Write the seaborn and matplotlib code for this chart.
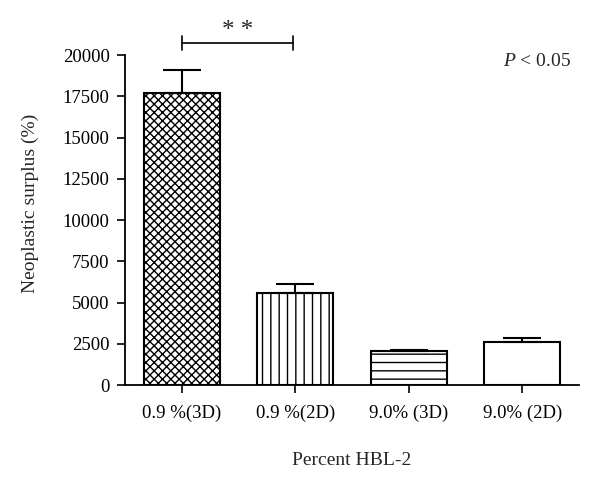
import seaborn as sns
import matplotlib.pyplot as plt
import pandas as pd

# values
groups = ['0.9 %(3D)', '0.9 %(2D)', '9.0% (3D)', '9.0% (2D)']
surplus = [17700, 5580, 2080, 2590]
sem = [1400, 520, 40, 240]
hatches = ['xxxx', '||', '--', '']

df = pd.DataFrame({'group': groups, 'surplus': surplus})

sns.set_style('ticks')
plt.rcParams['font.family'] = ['Liberation Serif', 'DejaVu Serif']
plt.rcParams['mathtext.fontset'] = 'custom'
plt.rcParams['mathtext.it'] = 'Liberation Serif:italic'
plt.rcParams['mathtext.rm'] = 'Liberation Serif'
plt.rcParams['hatch.linewidth'] = 1.0

fig = plt.figure(figsize=(6, 4.82), dpi=100)
ax = fig.add_axes([0.2083, 0.2012, 0.757, 0.6846])

sns.barplot(data=df, x='group', y='surplus', color='white', edgecolor='black',
            linewidth=1.5, width=0.67, errorbar=None, ax=ax)
for patch, h in zip(ax.patches, hatches):
    patch.set_hatch(h)

# one-sided error bars (upwards only)
ax.errorbar(range(len(groups)), surplus, yerr=[[0] * len(sem), sem], fmt='none',
            ecolor='black', elinewidth=1.5, capsize=14, capthick=1.5, zorder=3)

ax.set_xlim(-0.5, 3.5)
ax.set_ylim(0, 20000)
ax.set_yticks(range(0, 20001, 2500))
ax.set_ylabel('Neoplastic surplus (%)', fontsize=14)
ax.set_xlabel('Percent HBL-2', fontsize=14, labelpad=22)
ax.yaxis.set_label_coords(-0.19, 0.55)
ax.tick_params(axis='both', labelsize=13.5, width=1.2, length=6, colors='black')
ax.tick_params(axis='x', pad=8)
ax.tick_params(axis='y', pad=5)
for s in ['left', 'bottom']:
    ax.spines[s].set_linewidth(1.3)
    ax.spines[s].set_color('black')
sns.despine(ax=ax)

# significance bracket between the two 0.9 % groups
br_y = 20750
ax.plot([0, 0.98], [br_y, br_y], color='black', lw=1.2, clip_on=False)
for xb in [0, 0.98]:
    ax.plot([xb, xb], [br_y - 420, br_y + 420], color='black', lw=1.2, clip_on=False)
ax.text(0.49, br_y + 60, '* *', ha='center', va='bottom', fontsize=18, clip_on=False)

ax.text(3.43, 19600, r'$P$ < 0.05', ha='right', va='center', fontsize=14)

fig.savefig('out.png', dpi=100)
